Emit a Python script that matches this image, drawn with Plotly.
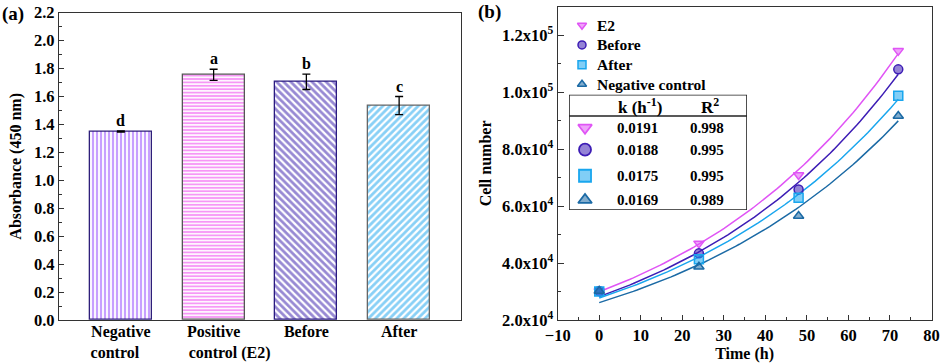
import numpy as np
import plotly.graph_objects as go

# ---------------- data: panel (a) ----------------
categories = ["Negative<br>control\u00a0\u00a0\u00a0", "Positive<br>\u00a0\u00a0\u00a0\u00a0\u00a0\u00a0\u00a0\u00a0control (E2)", "Before", "After"]
absorbance = [1.35, 1.755, 1.705, 1.535]
abs_err = [0.004, 0.04, 0.055, 0.065]
sig_letters = ["d", "a", "b", "c"]

# ---------------- data: panel (b) ----------------
series_names = ["E2", "Before", "After", "Negative control"]
time_h = [0, 24, 48, 72]
cells_e2 = [30200, 46900, 70900, 114500]
cells_before = [30200, 43400, 65800, 108000]
cells_after = [30000, 41300, 62900, 98700]
cells_neg = [30200, 38700, 56500, 91600]
# exponential fit parameters (N = A * exp(k t)) as drawn
fit_A = [29900, 28200, 27700, 26100]
fit_k = [0.01853, 0.01843, 0.01748, 0.01718]
# inset table
table_k = ["0.0191", "0.0188", "0.0175", "0.0169"]
table_r2 = ["0.998", "0.995", "0.995", "0.989"]
y_ticks_b = [20000, 40000, 60000, 80000, 100000, 120000]
y_ticktext_b = ["2.0x10<sup>4</sup>", "4.0x10<sup>4</sup>", "6.0x10<sup>4</sup>",
                "8.0x10<sup>4</sup>", "1.0x10<sup>5</sup>", "1.2x10<sup>5</sup>"]

# ---------------- styles ----------------
FONT = "Liberation Serif"
bar_fg = ["#9040ff", "#ee30ee", "#3014a8", "#12a2ee"]
bar_line = ["#2e1f7a", "#555555", "#2a1a80", "#666666"]
bar_shape = ["|", "-", "\\", "/"]
bar_size = [4, 3.4, 5, 5]
ser_color = ["#e055f5", "#3d1db5", "#19a6ee", "#1b6aa5"]
ser_fill = ["rgba(224,85,245,0.55)", "rgba(61,29,181,0.55)", "rgba(25,166,238,0.55)", "rgba(27,106,165,0.55)"]
ser_symbol = ["triangle-down", "circle", "square", "triangle-up"]
series_vals = [cells_e2, cells_before, cells_after, cells_neg]

W, H = 941, 363
def px_x(p):
    return p / W
def px_y(p):
    return (H - p) / H

fig = go.Figure()

# ---- panel (a) bars ----
for i, cat in enumerate(categories):
    fig.add_trace(go.Bar(
        x=[cat], y=[absorbance[i]], width=0.667,
        marker=dict(color="white", line=dict(color=bar_line[i], width=1.3),
                    pattern=dict(shape=bar_shape[i], fgcolor=bar_fg[i], bgcolor="white",
                                 size=bar_size[i], solidity=0.55, fillmode="overlay")),
        error_y=dict(type="data", array=[abs_err[i]], color="black", thickness=1.3, width=4),
        showlegend=False, xaxis="x", yaxis="y"))
    fig.add_annotation(x=cat, y=absorbance[i] + abs_err[i], xref="x", yref="y",
                       text=sig_letters[i], showarrow=False, yanchor="bottom", yshift=0,
                       font=dict(family=FONT, size=16, color="black", weight="bold"))

# ---- panel (b) ----
t_fit = np.linspace(0, 72, 80)
for i in range(4):
    fig.add_trace(go.Scatter(x=t_fit, y=fit_A[i] * np.exp(fit_k[i] * t_fit), mode="lines",
                             line=dict(color=ser_color[i], width=1.5), showlegend=False,
                             hoverinfo="skip", xaxis="x2", yaxis="y2"))
for i in range(4):
    fig.add_trace(go.Scatter(x=time_h, y=series_vals[i], mode="markers", name=series_names[i],
                             marker=dict(symbol=ser_symbol[i], size=9, color=ser_fill[i],
                                         line=dict(color=ser_color[i], width=1.5)),
                             showlegend=False, xaxis="x2", yaxis="y2"))

# legend (drawn on a hidden helper axis spanning the legend area)
leg_y = [3, 2, 1, 0]
for i in range(4):
    fig.add_trace(go.Scatter(x=[0], y=[leg_y[i]], mode="markers", showlegend=False, cliponaxis=False,
                             marker=dict(symbol=ser_symbol[i], size=8, color=ser_fill[i],
                                         line=dict(color=ser_color[i], width=1.5)),
                             hoverinfo="skip", xaxis="x4", yaxis="y4"))
    fig.add_annotation(x=0, y=leg_y[i], xref="x4", yref="y4", text=series_names[i], showarrow=False,
                       xanchor="left", xshift=13,
                       font=dict(family=FONT, size=15.5, color="black", weight="bold"))

# inset table symbols (on a hidden helper axis spanning the table box)
row_y = [0.714, 0.523, 0.297, 0.087]
for i in range(4):
    fig.add_trace(go.Scatter(x=[0.09], y=[row_y[i]], mode="markers", showlegend=False, cliponaxis=False,
                             marker=dict(symbol=ser_symbol[i], size=12, color=ser_fill[i],
                                         line=dict(color=ser_color[i], width=1.8)),
                             hoverinfo="skip", xaxis="x3", yaxis="y3"))
    fig.add_annotation(x=0.382, y=row_y[i], xref="x3", yref="y3", text=table_k[i], showarrow=False,
                       font=dict(family=FONT, size=15, color="black", weight="bold"))
    fig.add_annotation(x=0.775, y=row_y[i], xref="x3", yref="y3", text=table_r2[i], showarrow=False,
                       font=dict(family=FONT, size=15, color="black", weight="bold"))
fig.add_annotation(x=0.40, y=0.905, xref="x3", yref="y3", text="k (h<sup>-1</sup>)", showarrow=False,
                   font=dict(family=FONT, size=17, color="black", weight="bold"))
fig.add_annotation(x=0.79, y=0.905, xref="x3", yref="y3", text="R<sup>2</sup>", showarrow=False,
                   font=dict(family=FONT, size=17, color="black", weight="bold"))
fig.add_shape(type="rect", x0=0, x1=1, y0=0, y1=1, xref="x3", yref="y3",
              line=dict(color="#222222", width=1.6), fillcolor="rgba(0,0,0,0)")
fig.add_shape(type="line", x0=0, x1=1, y0=0.815, y1=0.815, xref="x3", yref="y3",
              line=dict(color="#222222", width=1.6))

# panel labels
fig.add_annotation(x=px_x(0), y=px_y(14), xref="paper", yref="paper", text="(a)", showarrow=False,
                   xanchor="left", yanchor="middle", font=dict(family=FONT, size=19, color="black", weight="bold"))
fig.add_annotation(x=px_x(476), y=px_y(12), xref="paper", yref="paper", text="(b)", showarrow=False,
                   xanchor="left", yanchor="middle", font=dict(family=FONT, size=19, color="black", weight="bold"))

tickfont = dict(family=FONT, size=16.5, color="black", weight="bold")
xcat_font = dict(family=FONT, size=16, color="black", weight="bold")
titlefont = dict(family=FONT, size=16, color="black", weight="bold")
axcommon = dict(showline=True, linecolor="#333333", linewidth=1.3, mirror=True, showgrid=False,
                zeroline=False, tickfont=tickfont, ticks="inside", tickcolor="#333333",
                automargin=False)

fig.update_layout(
    width=W, height=H, margin=dict(l=0, r=0, t=0, b=0, pad=0, autoexpand=False),
    paper_bgcolor="white", plot_bgcolor="white",
    font=dict(family=FONT, color="black", weight="bold"),
    bargap=0, showlegend=False,
    xaxis=dict(domain=[px_x(59), px_x(461)], type="category", range=[-0.667, 3.667],
               showline=True, linecolor="#333333", linewidth=1.3, mirror=True, showgrid=False,
               ticks="", tickfont=xcat_font, ticklabelstandoff=-3, anchor="y", automargin=False),
    yaxis=dict(domain=[px_y(320), px_y(12.7)], range=[0, 2.2], dtick=0.2, tickformat=".1f",
               ticklen=5, tickwidth=1.2,
               minor=dict(dtick=0.1, ticklen=3, ticks="inside", tickcolor="#333333"),
               title=dict(text="Absorbance (450 nm)", font=titlefont, standoff=8),
               anchor="x", **axcommon),
    xaxis2=dict(domain=[px_x(557.7), px_x(931.5)], range=[-10, 80], dtick=10, tick0=0,
                ticklen=5, tickwidth=1.2,
                minor=dict(dtick=5, ticklen=3, ticks="inside", tickcolor="#333333"),
                title=dict(text="Time (h)", font=titlefont, standoff=2),
                anchor="y2", **axcommon),
    yaxis2=dict(domain=[px_y(320), px_y(6.7)], range=[20000, 130000], tickvals=y_ticks_b,
                ticktext=y_ticktext_b, ticklen=6, tickwidth=1.2,
                minor=dict(dtick=10000, ticklen=3, ticks="inside", tickcolor="#333333"),
                title=dict(text="Cell number", font=titlefont, standoff=6),
                anchor="x2", **axcommon),
    xaxis3=dict(domain=[px_x(569), px_x(747)], range=[0, 1], visible=False, anchor="y3", fixedrange=True),
    yaxis3=dict(domain=[px_y(210), px_y(94.7)], range=[0, 1], visible=False, anchor="x3", fixedrange=True),
    xaxis4=dict(domain=[px_x(582), px_x(760)], range=[0, 1], visible=False, anchor="y4", fixedrange=True),
    yaxis4=dict(domain=[px_y(84.3), px_y(25.3)], range=[0, 3], visible=False, anchor="x4", fixedrange=True),
)

fig.write_html("out.html", config={"displayModeBar": False},
               post_script="document.body.style.margin='0';")
